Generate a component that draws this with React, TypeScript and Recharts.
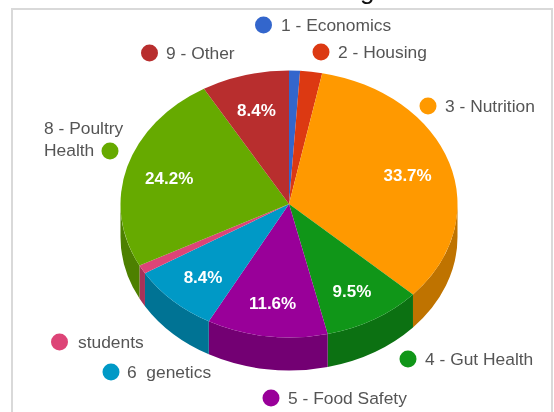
import { PieChart, Pie, Cell, Sector } from "recharts";

const TOPICS = [
  "1 - Economics", "2 - Housing", "3 - Nutrition", "4 - Gut Health", "5 - Food Safety",
  "6  genetics", "students", "8 - Poultry Health", "9 - Other",
];
const COUNTS = [1, 2, 32, 9, 11, 8, 1, 23, 8];
const COLORS = [
  "#3366cc", "#dc3912", "#ff9900", "#109618", "#990099",
  "#0099c6", "#dd4477", "#66aa00", "#b82e2e",
];
const SIDE_COLORS = [
  "#264d99", "#a52b0e", "#bf7300", "#0c7112", "#730073",
  "#007394", "#a63359", "#4d8000", "#8a2323",
];
const PERCENT_LABELS = ["", "", "33.7%", "9.5%", "11.6%", "8.4%", "", "24.2%", "8.4%"];

const pieData = TOPICS.map((name, i) => ({ name, value: COUNTS[i] }));

const W = 554;
const H = 412;
const CX = 289;
const CY = 204;
const R = 168.5;
const SQUASH = 0.792; // pie is tilted, so it is drawn as an ellipse
const DEPTH = 33;

const RAD = Math.PI / 180;
const squash = `translate(0 ${CY}) scale(1 ${SQUASH}) translate(0 ${-CY})`;

function TopSlice(props: any) {
  return (
    <g transform={squash}>
      <Sector {...props} stroke="none" />
    </g>
  );
}

// wall under the rim: only the part of a slice on the lower half of the ellipse shows
function SideSlice(props: any) {
  const { cx, cy, outerRadius: r, startAngle, endAngle, fill } = props;
  const a = Math.max(Math.min(startAngle, endAngle), -180);
  const b = Math.min(Math.max(startAngle, endAngle), 0);
  if (b <= a) return <g />;
  const px = (deg: number) => cx + r * Math.cos(deg * RAD);
  const py = (deg: number) => cy - r * SQUASH * Math.sin(deg * RAD);
  const ry = r * SQUASH;
  const d = [
    `M${px(a)} ${py(a)}`,
    `A${r} ${ry} 0 0 0 ${px(b)} ${py(b)}`,
    `L${px(b)} ${py(b) + DEPTH}`,
    `A${r} ${ry} 0 0 1 ${px(a)} ${py(a) + DEPTH}`,
    "Z",
  ].join(" ");
  return <path d={d} fill={fill} />;
}

function PercentLabel(props: any) {
  const { cx, cy, midAngle, outerRadius, index } = props;
  const text = PERCENT_LABELS[index];
  if (!text) return null;
  const f = 0.74;
  const x = cx + outerRadius * f * Math.cos(-midAngle * RAD);
  const y = cy + 2 + outerRadius * f * SQUASH * Math.sin(-midAngle * RAD);
  return (
    <text x={x} y={y} textAnchor="middle" dominantBaseline="central" fill="#fff"
      fontSize={17} fontWeight={700} fontFamily="Liberation Sans">
      {text}
    </text>
  );
}

function Dot({ x, y, i }: { x: number; y: number; i: number }) {
  return <circle cx={x} cy={y} r={8.5} fill={COLORS[i]} />;
}

function Name({ x, y, children }: { x: number; y: number; children: any }) {
  return (
    <text x={x} y={y} fill="#555" fontSize={17.4} fontFamily="Liberation Sans" xmlSpace="preserve">
      {children}
    </text>
  );
}

export default function App() {
  return (
    <div style={{ position: "absolute", left: 0, top: 0, width: W, height: H, overflow: "hidden",
      background: "#fff", filter: "blur(0.4px)" }}>
      {/* scrap of the sentence above the chart, cut off by the screenshot; wording is a guess */}
      <div style={{ position: "absolute", left: 0, top: -25, width: W, whiteSpace: "nowrap",
        fontFamily: "Liberation Sans", fontSize: 26, color: "#111" }}>
        te to the most beneficial heading below to review
      </div>
      <div style={{ position: "absolute", left: 11, top: 8, width: 542, height: H, boxSizing: "border-box",
        border: "2px solid #d9d9d9" }} />
      <div style={{ position: "absolute", left: 0, top: 0 }}>
        <PieChart width={W} height={H} margin={{ top: 0, right: 0, bottom: 0, left: 0 }}>
          <Pie data={pieData} dataKey="value" nameKey="name" cx={CX} cy={CY} outerRadius={R}
            startAngle={90} endAngle={-270} isAnimationActive={false} shape={SideSlice} legendType="none">
            {pieData.map((d, i) => <Cell key={d.name} fill={SIDE_COLORS[i]} />)}
          </Pie>
          <Pie data={pieData} dataKey="value" nameKey="name" cx={CX} cy={CY} outerRadius={R}
            startAngle={90} endAngle={-270} isAnimationActive={false} shape={TopSlice}
            label={PercentLabel} labelLine={false} legendType="none">
            {pieData.map((d, i) => <Cell key={d.name} fill={COLORS[i]} />)}
          </Pie>
          {/* Google-style labels placed around the pie */}
          <Dot x={263.5} y={25} i={0} /><Name x={281} y={31}>1 - Economics</Name>
          <Dot x={321} y={52} i={1} /><Name x={338} y={58}>2 - Housing</Name>
          <Dot x={428} y={106} i={2} /><Name x={445} y={112}>3 - Nutrition</Name>
          <Dot x={408} y={359} i={3} /><Name x={425} y={365}>4 - Gut Health</Name>
          <Dot x={271} y={398} i={4} /><Name x={288} y={404}>5 - Food Safety</Name>
          <Dot x={111} y={372} i={5} /><Name x={127} y={378}>6  genetics</Name>
          <Dot x={59.5} y={342} i={6} /><Name x={78} y={348}>students</Name>
          <Name x={44} y={134}>8 - Poultry</Name>
          <Name x={44} y={156}>Health</Name>
          <Dot x={110} y={151} i={7} />
          <Dot x={149.5} y={53} i={8} /><Name x={166} y={59}>9 - Other</Name>
        </PieChart>
      </div>
    </div>
  );
}
